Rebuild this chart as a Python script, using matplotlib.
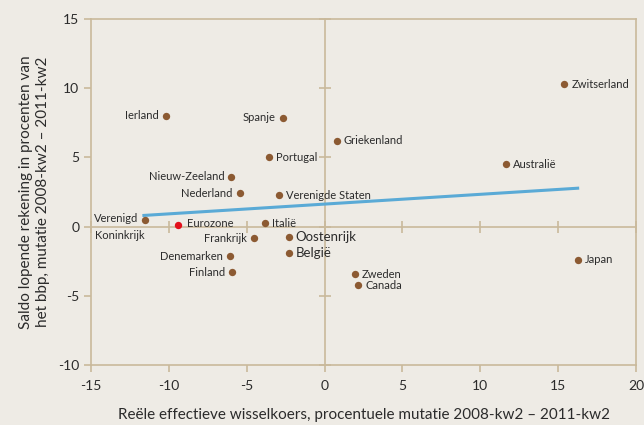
import matplotlib.pyplot as plt

plt.rcParams['font.family'] = ['Lato', 'DejaVu Sans']
plt.rcParams['axes.unicode_minus'] = False

# ----------------------------------
# Data
# ----------------------------------
countries = ['Zwitserland', 'Griekenland', 'Australië', 'Ierland', 'Spanje', 'Portugal',
             'Nieuw-Zeeland', 'Nederland', 'Verenigde Staten', 'Verenigd\nKoninkrijk',
             'Italië', 'Frankrijk', 'Oostenrijk', 'België', 'Denemarken', 'Finland',
             'Zweden', 'Canada', 'Japan']
wisselkoers = [15.4, 0.8, 11.65, -10.2, -2.7, -3.55, -6.0, -5.45, -2.9, -11.5,
               -3.8, -4.55, -2.3, -2.3, -6.1, -5.95, 1.95, 2.15, 16.3]
saldo = [10.3, 6.2, 4.5, 8.0, 7.85, 5.0, 3.6, 2.4, 2.25, 0.45,
         0.25, -0.85, -0.75, -1.9, -2.15, -3.3, -3.45, -4.25, -2.4]
label_side = ['r', 'r', 'r', 'l', 'l', 'r', 'l', 'l', 'r', 'vk',
              'r', 'l', 'r', 'r', 'l', 'l', 'r', 'r', 'r']

eurozone_x = [-9.4]
eurozone_y = [0.15]

trend_x = [-11.7, 16.35]
trend_y = [0.8, 2.78]

bg = '#eeebe5'
frame = '#c9b99b'
brown = '#8c5a32'
txt = '#2b2b2b'

fig = plt.figure(figsize=(6.44, 4.25), dpi=100, facecolor=bg)
ax = fig.add_axes([0.1413, 0.1412, 0.8463, 0.8141], facecolor=bg)

ax.set_xlim(-15, 20)
ax.set_ylim(-10, 15)
ax.set_xticks(range(-15, 21, 5))
ax.set_yticks(range(-10, 16, 5))

for s in ax.spines.values():
    s.set_color(frame)
    s.set_linewidth(1.2)
ax.tick_params(colors=frame, labelcolor=txt, labelsize=10, length=5, width=1.2,
               direction='out')
ax.tick_params(axis='x', pad=6)

# zero lines with ticks crossing them
ax2 = fig.add_axes(ax.get_position(), sharex=ax, sharey=ax, facecolor='none')
ax2.spines['top'].set_visible(False)
ax2.spines['right'].set_visible(False)
ax2.spines['left'].set_position(('data', 0))
ax2.spines['bottom'].set_position(('data', 0))
for s in ['left', 'bottom']:
    ax2.spines[s].set_color(frame)
    ax2.spines[s].set_linewidth(1.2)
ax2.tick_params(colors=frame, length=8, width=1.2, direction='inout',
                labelleft=False, labelbottom=False)

# trend line
ax2.plot(trend_x, trend_y, color='#5aaad6', linewidth=2.2, solid_capstyle='butt', zorder=3)

# points
ax2.scatter(wisselkoers, saldo, s=28, color=brown, zorder=4, linewidths=0)
ax2.scatter(eurozone_x, eurozone_y, s=28, color='#e3101c', zorder=4, linewidths=0)
ax2.annotate('Eurozone', (eurozone_x[0], eurozone_y[0]), xytext=(6, 1),
             textcoords='offset points', ha='left', va='center', fontsize=8, color=txt)

for name, x, y, side in zip(countries, wisselkoers, saldo, label_side):
    size = 9.5 if name in ('Oostenrijk', 'België') else 8
    if side == 'r':
        ax2.annotate(name, (x, y), xytext=(5, 0), textcoords='offset points',
                     ha='left', va='center', fontsize=size, color=txt)
    elif side == 'l':
        ax2.annotate(name, (x, y), xytext=(-5, 0), textcoords='offset points',
                     ha='right', va='center', fontsize=size, color=txt)
    else:
        ax2.annotate('Verenigd', (x, y), xytext=(-5, 1), textcoords='offset points',
                     ha='right', va='center', fontsize=size, color=txt)
        ax2.annotate('Koninkrijk', (x, y), xytext=(-36, -11), textcoords='offset points',
                     ha='left', va='center', fontsize=size, color=txt)

ax.set_xlabel('Reële effectieve wisselkoers, procentuele mutatie 2008-kw2 – 2011-kw2',
              fontsize=11, color=txt, labelpad=11)
ax.set_ylabel('Saldo lopende rekening in procenten van\nhet bbp, mutatie 2008-kw2 – 2011-kw2',
              fontsize=11, color=txt, labelpad=6)

fig.savefig('out.png', dpi=100, facecolor=bg)
